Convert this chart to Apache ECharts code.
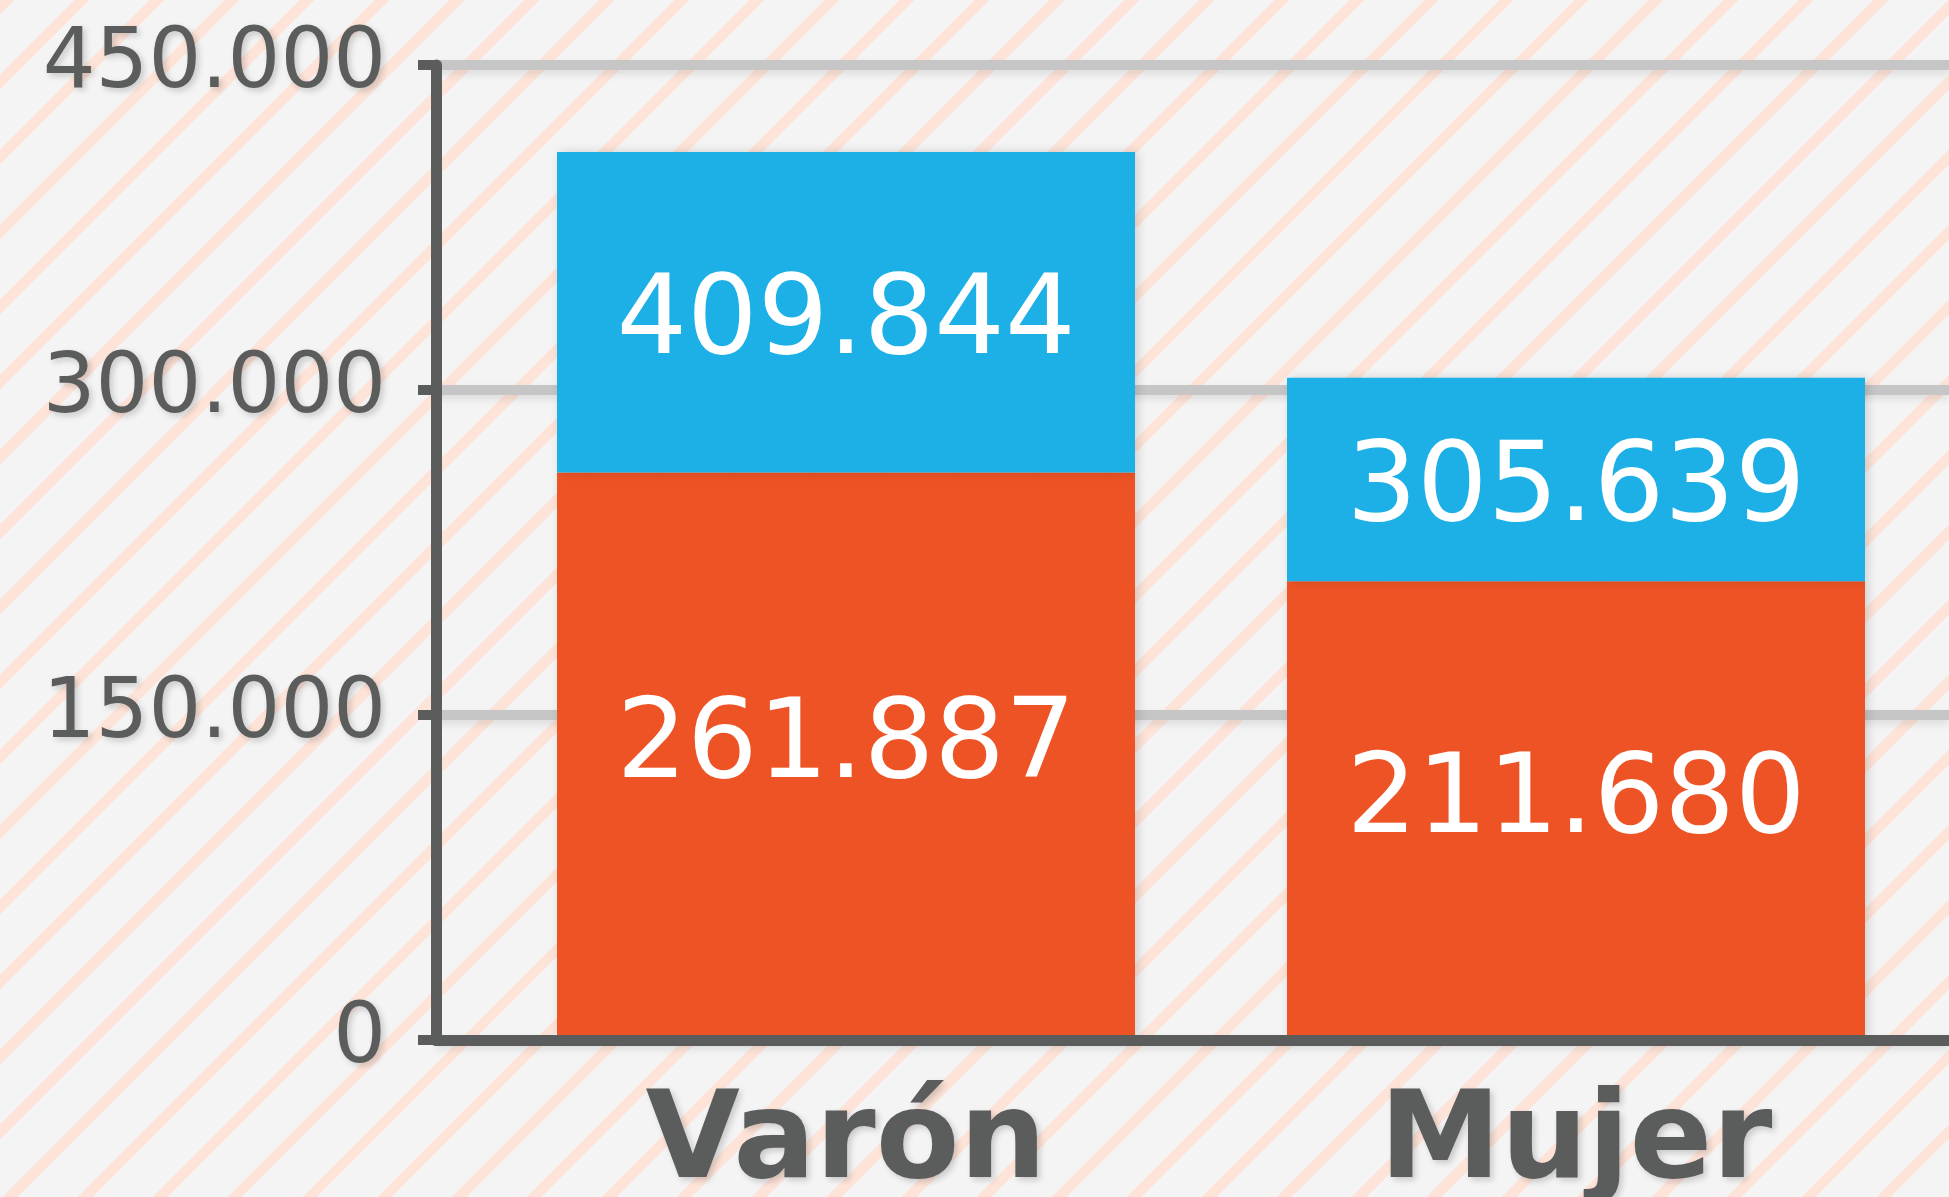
<!DOCTYPE html>
<html><head><meta charset="utf-8">
<script src="https://cdn.jsdelivr.net/npm/echarts@6/dist/echarts.min.js"></script>
<style>
html,body{margin:0;padding:0;background:#f4f4f4}
#c{width:1949px;height:1197px;
  background: repeating-linear-gradient(135deg, #fde3d8 0px, #fde3d8 10.5px, #f4f4f4 10.5px, #f4f4f4 53px);}
</style>
</head><body><div id="c"></div>
<script>
// ---- data ----
const categories = ['Varón', 'Mujer'];
const lowerValues = [261887, 211680];      // orange segment
const totalValues = [409844, 305639];      // top of the stack (shown in blue segment)
const yTickValues = [0, 150000, 300000, 450000];
const yTickLabels = ['0', '150.000', '300.000', '450.000'];

const upperValues = totalValues.map((t, i) => t - lowerValues[i]);
const fmt = v => String(v).replace(/\B(?=(\d{3})+(?!\d))/g, '.');

const FONT = '"DejaVu Sans", sans-serif';
const GRAY = '#5b5d5c';
const yMin = yTickValues[0], yMax = yTickValues[yTickValues.length - 1], yInt = yTickValues[1] - yTickValues[0];
const shadowText = { textShadowColor: 'rgba(0,0,0,0.18)', textShadowBlur: 6, textShadowOffsetX: 3, textShadowOffsetY: 3 };

const chart = echarts.init(document.getElementById('c'), null, { renderer: 'canvas' });
chart.setOption({
  animation: false,
  backgroundColor: 'transparent',
  grid: [
    { left: 436, right: 0, top: 65, bottom: 157, containLabel: false, outerBoundsMode: 'none' },
    { left: 481, width: 1460, top: 65, bottom: 157, containLabel: false, outerBoundsMode: 'none' }
  ],
  xAxis: [
    { gridIndex: 0, type: 'category', data: categories, z: 5,
      axisLine: { show: true, lineStyle: { color: GRAY, width: 11 } },
      axisTick: { show: false }, axisLabel: { show: false }, splitLine: { show: false } },
    { gridIndex: 1, type: 'category', data: categories,
      axisLine: { show: false }, axisTick: { show: false },
      axisLabel: { show: true, margin: 44, fontSize: 122, fontWeight: 'bold', fontFamily: FONT, color: GRAY, ...shadowText } }
  ],
  yAxis: [
    { gridIndex: 0, type: 'value', min: yMin, max: yMax, interval: yInt,
      axisLine: { show: true, lineStyle: { color: GRAY, width: 11 } },
      axisTick: { show: true, inside: false, length: 18, lineStyle: { color: GRAY, width: 10 } },
      axisLabel: { margin: 50, fontSize: 83, fontFamily: FONT, color: GRAY, ...shadowText,
        formatter: v => { const i = yTickValues.indexOf(v); return i >= 0 ? yTickLabels[i] : ''; } },
      splitLine: { show: true, lineStyle: { color: '#c6c6c6', width: 10, shadowColor: 'rgba(0,0,0,0.10)', shadowBlur: 8, shadowOffsetY: 4 } } },
    { gridIndex: 1, type: 'value', min: yMin, max: yMax, interval: yInt, show: false, splitLine: { show: false } }
  ],
  series: [
    { type: 'bar', name: 'lower', xAxisIndex: 1, yAxisIndex: 1, stack: 'total', data: lowerValues, barWidth: 578, z: 3,
      itemStyle: { color: '#ee5325', shadowColor: 'rgba(0,0,0,0.15)', shadowBlur: 10, shadowOffsetX: 3 },
      label: { show: true, position: 'inside', offset: [0, -8], color: '#ffffff', fontSize: 111, fontFamily: FONT,
        formatter: p => fmt(lowerValues[p.dataIndex]) } },
    { type: 'bar', name: 'upper', xAxisIndex: 1, yAxisIndex: 1, stack: 'total', data: upperValues, barWidth: 578, z: 3,
      itemStyle: { color: '#1cb0e6', shadowColor: 'rgba(0,0,0,0.15)', shadowBlur: 10, shadowOffsetX: 3 },
      label: { show: true, position: 'inside', offset: [0, 12], color: '#ffffff', fontSize: 111, fontFamily: FONT,
        formatter: p => fmt(totalValues[p.dataIndex]) } }
  ]
});
</script></body></html>
